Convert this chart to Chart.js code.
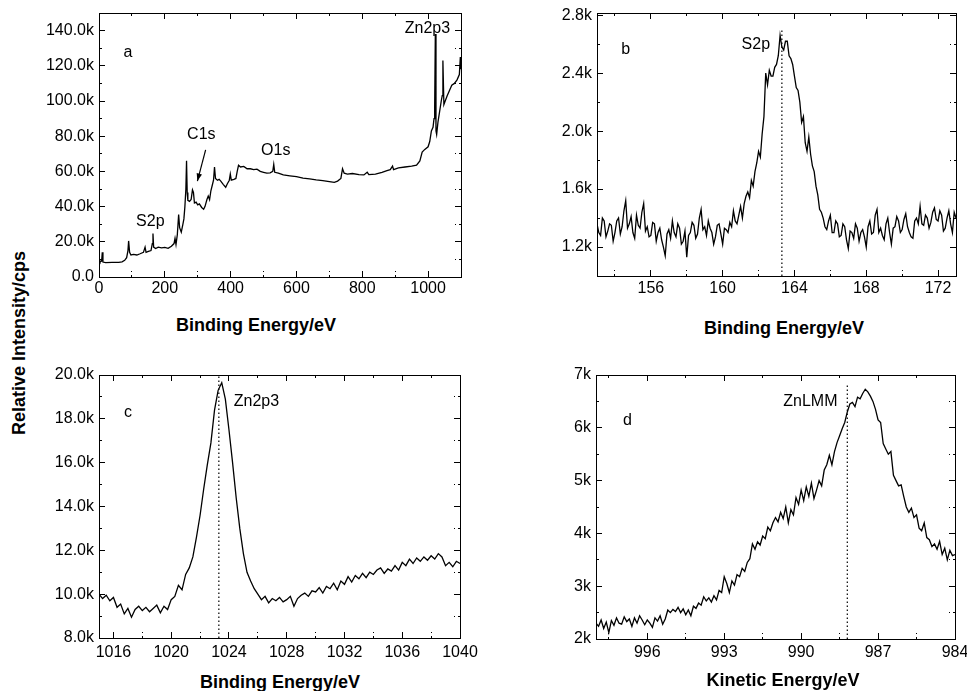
<!DOCTYPE html>
<html>
<head>
<meta charset="utf-8">
<script src="https://cdn.jsdelivr.net/npm/chart.js@4.4.1/dist/chart.umd.min.js"></script>
<style>
    body { margin: 0; background: #fff; }
    #page { position: relative; width: 967px; height: 691px; overflow: hidden; font-family: "Liberation Sans", Arial, sans-serif; color: #000; }
    #page canvas { position: absolute; }
    .axis-title { position: absolute; font-weight: bold; font-size: 18px; white-space: nowrap; transform: translate(-50%, -50%); }
    .axis-title.vertical { transform: translate(-50%, -50%) rotate(-90deg); }
</style>
</head>
<body>
<div id="page">
    <canvas id="surveyGraph" width="440" height="312" style="left:40px;top:-12px"></canvas>
    <canvas id="s2pGraph" width="460" height="312" style="left:520px;top:-12px"></canvas>
    <canvas id="zn2pGraph" width="450" height="330" style="left:40px;top:340px"></canvas>
    <canvas id="lmmGraph" width="460" height="330" style="left:520px;top:340px"></canvas>
    <div class="axis-title vertical" style="left:19px;top:343px">Relative Intensity/cps</div>
    <div class="axis-title" style="left:256px;top:325px">Binding Energy/eV</div>
    <div class="axis-title" style="left:784px;top:328px">Binding Energy/eV</div>
    <div class="axis-title" style="left:280px;top:682px">Binding Energy/eV</div>
    <div class="axis-title" style="left:783px;top:680px">Kinetic Energy/eV</div>
</div>
<script>
// (a) survey scan, counts in kcps
var surveyEnergy = [
    0, 3, 8, 10, 12, 20, 40, 60, 70, 78,
    84, 88, 90, 93, 97, 105, 115, 125, 135, 140,
    143, 150, 158, 162, 164, 166, 172, 180, 190, 200,
    210, 220, 228, 231, 234, 238, 242, 245, 250, 255,
    258, 261, 264, 266, 268, 270, 275, 280, 284, 287,
    290, 295, 300, 305, 312, 318, 322, 328, 332, 336,
    340, 344, 348, 351, 354, 360, 365, 370, 378, 385,
    390, 396, 399, 402, 410, 416, 420, 424, 430, 440,
    450, 460, 470, 480, 490, 500, 510, 520, 528, 531,
    534, 545, 560, 580, 600, 620, 640, 660, 680, 700,
    715, 725, 735, 740, 745, 755, 770, 790, 805, 815,
    820, 840, 860, 875, 885, 892, 895, 910, 930, 950,
    965, 975, 982, 990, 1000, 1005, 1010, 1015, 1018, 1020,
    1022, 1024, 1026, 1030, 1035, 1040, 1043, 1045, 1048, 1052,
    1058, 1065, 1072, 1080, 1088, 1095, 1098, 1100
];
var surveyCounts = [
    9.5, 8.5, 9, 14, 8.5, 8.2, 8.3, 8.3, 8.6, 9.5,
    11, 15, 20.5, 14, 12.5, 12.8, 12.5, 13.2, 14, 17,
    14, 14.5, 15, 19, 24.7, 17, 16.2, 17, 16.5, 16.8,
    16.3, 17.5, 19, 22, 18.5, 24, 35.5, 28, 25.5, 30,
    33, 40, 50, 66, 48, 43.5, 43, 44, 49.5, 48,
    42, 42.5, 41, 41.5, 39.5, 38.5, 40, 44, 46, 44,
    49, 52, 55, 62.5, 56, 55, 55.5, 54.5, 52.5, 51,
    53, 55, 58.5, 55, 55.5, 56, 60, 63.5, 62.5, 62.8,
    61.5, 61.5, 61, 61.3, 60, 59.5, 59, 59.2, 60, 64,
    59.5, 59, 58, 57.5, 57, 56.2, 55.8, 55.2, 54.8, 54.2,
    53.8, 54.5, 56, 61.5, 59, 58.5, 58.8, 58.2, 58, 59.5,
    58.2, 58.5, 59.5, 60.5, 61, 63, 61, 62, 62.5, 63,
    63.5, 66, 71, 72.5, 74, 77, 83, 85, 90, 96,
    138, 83, 81, 88, 94, 100, 103, 123, 98, 100,
    103, 106, 109, 110, 112, 115, 125, 118
];
var surveyXTicks = [0, 100, 200, 300, 400, 500, 600, 700, 800, 900, 1000, 1100];
var surveyXMajor = [0, 200, 400, 600, 800, 1000];
var surveyYTicks = [0, 10, 20, 30, 40, 50, 60, 70, 80, 90, 100, 110, 120, 130, 140];
var surveyYMajor = [0, 20, 40, 60, 80, 100, 120, 140];

// (b) S2p region
var s2pEnergy = [
    153.0, 153.1, 153.2, 153.3, 153.4, 153.5, 153.6, 153.7, 153.8, 153.9,
    154.0, 154.1, 154.2, 154.3, 154.4, 154.5, 154.6, 154.7, 154.8, 154.9,
    155.0, 155.1, 155.2, 155.3, 155.4, 155.5, 155.6, 155.7, 155.8, 155.9,
    156.0, 156.1, 156.2, 156.3, 156.4, 156.5, 156.6, 156.7, 156.8, 156.9,
    157.0, 157.1, 157.2, 157.3, 157.4, 157.5, 157.6, 157.7, 157.8, 157.9,
    158.0, 158.1, 158.2, 158.3, 158.4, 158.5, 158.6, 158.7, 158.8, 158.9,
    159.0, 159.1, 159.2, 159.3, 159.4, 159.5, 159.6, 159.7, 159.8, 159.9,
    160.0, 160.1, 160.2, 160.3, 160.4, 160.5, 160.6, 160.7, 160.8, 160.9,
    161.0, 161.1, 161.2, 161.3, 161.4, 161.5, 161.6, 161.7, 161.8, 161.9,
    162.0, 162.1, 162.2, 162.3, 162.4, 162.5, 162.6, 162.7, 162.8, 162.9,
    163.0, 163.1, 163.2, 163.3, 163.4, 163.5, 163.6, 163.7, 163.8, 163.9,
    164.0, 164.1, 164.2, 164.3, 164.4, 164.5, 164.6, 164.7, 164.8, 164.9,
    165.0, 165.1, 165.2, 165.3, 165.4, 165.5, 165.6, 165.7, 165.8, 165.9,
    166.0, 166.1, 166.2, 166.3, 166.4, 166.5, 166.6, 166.7, 166.8, 166.9,
    167.0, 167.1, 167.2, 167.3, 167.4, 167.5, 167.6, 167.7, 167.8, 167.9,
    168.0, 168.1, 168.2, 168.3, 168.4, 168.5, 168.6, 168.7, 168.8, 168.9,
    169.0, 169.1, 169.2, 169.3, 169.4, 169.5, 169.6, 169.7, 169.8, 169.9,
    170.0, 170.1, 170.2, 170.3, 170.4, 170.5, 170.6, 170.7, 170.8, 170.9,
    171.0, 171.1, 171.2, 171.3, 171.4, 171.5, 171.6, 171.7, 171.8, 171.9,
    172.0, 172.1, 172.2, 172.3, 172.4, 172.5, 172.6, 172.7, 172.8, 172.9,
    173.0
];
var s2pCounts = [
    1.36, 1.30, 1.28, 1.40, 1.38, 1.27, 1.31, 1.36, 1.35, 1.24,
    1.30, 1.38, 1.40, 1.29, 1.34, 1.45, 1.52, 1.33, 1.36, 1.41,
    1.30, 1.26, 1.42, 1.35, 1.33, 1.44, 1.50, 1.31, 1.34, 1.27,
    1.28, 1.37, 1.36, 1.24, 1.30, 1.33, 1.25, 1.20, 1.14, 1.29,
    1.32, 1.26, 1.38, 1.30, 1.27, 1.36, 1.33, 1.22, 1.24, 1.31,
    1.13, 1.28, 1.30, 1.37, 1.35, 1.26, 1.29, 1.40, 1.46, 1.32,
    1.34, 1.28, 1.38, 1.33, 1.30, 1.22, 1.27, 1.35, 1.36, 1.29,
    1.22, 1.33, 1.32, 1.30, 1.37, 1.34, 1.45, 1.38, 1.36, 1.42,
    1.48, 1.40, 1.50, 1.55, 1.58, 1.54, 1.66, 1.62, 1.72, 1.78,
    1.86, 1.82, 1.98, 2.10, 2.40, 2.32, 2.42, 2.38, 2.38, 2.44,
    2.46, 2.52, 2.66, 2.58, 2.56, 2.62, 2.62, 2.52, 2.50, 2.46,
    2.38, 2.30, 2.28, 2.20, 2.06, 2.10, 1.92, 1.86, 1.96, 1.84,
    1.76, 1.72, 1.62, 1.56, 1.46, 1.44, 1.40, 1.34, 1.32, 1.38,
    1.42, 1.30, 1.30, 1.38, 1.36, 1.27, 1.28, 1.36, 1.34, 1.25,
    1.19, 1.31, 1.30, 1.26, 1.36, 1.33, 1.24, 1.30, 1.32, 1.27,
    1.20, 1.34, 1.38, 1.29, 1.30, 1.42, 1.46, 1.30, 1.33, 1.28,
    1.25, 1.36, 1.40, 1.30, 1.22, 1.33, 1.34, 1.41, 1.38, 1.30,
    1.32, 1.39, 1.43, 1.34, 1.30, 1.27, 1.26, 1.38, 1.40, 1.36,
    1.48, 1.36, 1.35, 1.42, 1.40, 1.33, 1.37, 1.44, 1.47, 1.39,
    1.38, 1.45, 1.42, 1.31, 1.33, 1.40, 1.45, 1.36, 1.30, 1.44,
    1.40
];
var s2pXTicks = [154, 156, 158, 160, 162, 164, 166, 168, 170, 172];
var s2pXMajor = [156, 160, 164, 168, 172];
var s2pYTicks = [1.2, 1.4, 1.6, 1.8, 2.0, 2.2, 2.4, 2.6, 2.8];
var s2pYMajor = [1.2, 1.6, 2.0, 2.4, 2.8];
var s2pMarker = [163.3, 1.0, 2.70];

// (c) Zn2p3 region
var zn2pEnergy = [
    1015, 1015.25, 1015.5, 1015.75, 1016, 1016.25, 1016.5, 1016.75,
    1017, 1017.25, 1017.5, 1017.75, 1018, 1018.25, 1018.5, 1018.75,
    1019, 1019.25, 1019.5, 1019.75, 1020, 1020.25, 1020.5, 1020.75,
    1021, 1021.25, 1021.5, 1021.75, 1022, 1022.25, 1022.5, 1022.75,
    1023, 1023.25, 1023.5, 1023.75, 1024, 1024.25, 1024.5, 1024.75,
    1025, 1025.25, 1025.5, 1025.75, 1026, 1026.25, 1026.5, 1026.75,
    1027, 1027.25, 1027.5, 1027.75, 1028, 1028.25, 1028.5, 1028.75,
    1029, 1029.25, 1029.5, 1029.75, 1030, 1030.25, 1030.5, 1030.75,
    1031, 1031.25, 1031.5, 1031.75, 1032, 1032.25, 1032.5, 1032.75,
    1033, 1033.25, 1033.5, 1033.75, 1034, 1034.25, 1034.5, 1034.75,
    1035, 1035.25, 1035.5, 1035.75, 1036, 1036.25, 1036.5, 1036.75,
    1037, 1037.25, 1037.5, 1037.75, 1038, 1038.25, 1038.5, 1038.75,
    1039, 1039.25, 1039.5, 1039.75, 1040
];
var zn2pCounts = [
    10.0, 9.8, 9.95, 9.7, 9.85, 9.4, 9.55, 9.1,
    9.35, 8.95, 9.3, 9.45, 9.25, 9.4, 9.2, 9.35,
    9.5, 9.15, 9.45, 9.3, 9.75, 9.9, 10.4, 10.2,
    10.9, 11.2, 11.7, 12.6, 13.6, 14.8, 15.9, 16.9,
    18.4, 19.3, 19.65, 18.9, 17.5, 16.0, 14.4, 13.0,
    11.85, 11.0, 10.6, 10.25, 10.0, 9.75, 9.9, 9.6,
    9.8, 9.7, 9.85, 9.65, 9.75, 9.9, 9.45, 9.8,
    9.95, 10.05, 9.9, 10.15, 10.1, 10.3, 10.05, 10.35,
    10.25, 10.5, 10.2, 10.6, 10.45, 10.8, 10.55, 10.85,
    10.7, 10.95, 10.75, 11.0, 10.9, 11.1, 11.2, 10.95,
    11.15, 11.05, 11.3, 11.1, 11.45, 11.3, 11.6, 11.4,
    11.65, 11.5, 11.7, 11.55, 11.75, 11.6, 11.85, 11.7,
    11.3, 11.45, 11.25, 11.5, 11.4
];
var zn2pXTicks = [1016, 1018, 1020, 1022, 1024, 1026, 1028, 1030, 1032, 1034, 1036, 1038, 1040];
var zn2pXMajor = [1016, 1020, 1024, 1028, 1032, 1036, 1040];
var zn2pYTicks = [8, 9, 10, 11, 12, 13, 14, 15, 16, 17, 18, 19, 20];
var zn2pYMajor = [8, 10, 12, 14, 16, 18, 20];
var zn2pMarker = [1023.3, 8, 20];

// (d) ZnLMM Auger region, kinetic energy runs backwards
var lmmEnergy = [
    998.0, 997.9, 997.8, 997.7, 997.6, 997.5, 997.4, 997.3, 997.2, 997.1,
    997.0, 996.9, 996.8, 996.7, 996.6, 996.5, 996.4, 996.3, 996.2, 996.1,
    996.0, 995.9, 995.8, 995.7, 995.6, 995.5, 995.4, 995.3, 995.2, 995.1,
    995.0, 994.9, 994.8, 994.7, 994.6, 994.5, 994.4, 994.3, 994.2, 994.1,
    994.0, 993.9, 993.8, 993.7, 993.6, 993.5, 993.4, 993.3, 993.2, 993.1,
    993.0, 992.9, 992.8, 992.7, 992.6, 992.5, 992.4, 992.3, 992.2, 992.1,
    992.0, 991.9, 991.8, 991.7, 991.6, 991.5, 991.4, 991.3, 991.2, 991.1,
    991.0, 990.9, 990.8, 990.7, 990.6, 990.5, 990.4, 990.3, 990.2, 990.1,
    990.0, 989.9, 989.8, 989.7, 989.6, 989.5, 989.4, 989.3, 989.2, 989.1,
    989.0, 988.9, 988.8, 988.7, 988.6, 988.5, 988.4, 988.3, 988.2, 988.1,
    988.0, 987.9, 987.8, 987.7, 987.6, 987.5, 987.4, 987.3, 987.2, 987.1,
    987.0, 986.9, 986.8, 986.7, 986.6, 986.5, 986.4, 986.3, 986.2, 986.1,
    986.0, 985.9, 985.8, 985.7, 985.6, 985.5, 985.4, 985.3, 985.2, 985.1,
    985.0, 984.9, 984.8, 984.7, 984.6, 984.5, 984.4, 984.3, 984.2, 984.1,
    984.0
];
var lmmCounts = [
    2.30, 2.24, 2.36, 2.20, 2.32, 2.12, 2.35, 2.26, 2.40, 2.30,
    2.28, 2.42, 2.33, 2.38, 2.24, 2.40, 2.30, 2.44, 2.36, 2.27,
    2.36, 2.30, 2.22, 2.40, 2.34, 2.44, 2.28, 2.38, 2.55, 2.50,
    2.56, 2.52, 2.60, 2.50, 2.57, 2.46, 2.55, 2.44, 2.62, 2.58,
    2.68, 2.64, 2.80, 2.72, 2.78, 2.70, 2.82, 2.74, 2.92, 2.88,
    3.18, 3.05, 2.88, 3.10, 3.02, 3.22, 3.18, 3.34, 3.28, 3.45,
    3.52, 3.80, 3.70, 3.84, 3.78, 3.95, 3.90, 4.12, 4.05, 4.20,
    4.30, 4.22, 4.40, 4.28, 4.50, 4.20, 4.45, 4.35, 4.68, 4.55,
    4.82, 4.62, 4.88, 4.70, 4.95, 4.66, 4.82, 5.00, 4.90, 5.20,
    5.30, 5.48, 5.30, 5.55, 5.72, 5.85, 5.98, 6.10, 6.30, 6.45,
    6.48, 6.40, 6.58, 6.55, 6.65, 6.73, 6.68, 6.60, 6.50, 6.35,
    6.15, 6.10, 5.70, 5.60, 5.50, 5.55, 5.10, 5.00, 4.90, 4.92,
    4.70, 4.50, 4.40, 4.48, 4.30, 4.35, 4.10, 4.05, 4.20, 3.92,
    3.88, 3.75, 3.80, 3.70, 3.85, 3.60, 3.72, 3.50, 3.68, 3.58,
    3.60
];
var lmmXTicks = [997.5, 996, 994.5, 993, 991.5, 990, 988.5, 987, 985.5, 984];
var lmmXMajor = [996, 993, 990, 987, 984];
var lmmYTicks = [2, 2.5, 3, 3.5, 4, 4.5, 5, 5.5, 6, 6.5, 7];
var lmmYMajor = [2, 3, 4, 5, 6, 7];
var lmmMarker = [988.2, 2, 6.83];

var tickFont = { family: "'Liberation Sans', Arial, sans-serif", size: 16 };
var noteFont = "16px 'Liberation Sans', Arial, sans-serif";

function build_points(xs, ys) {
    var points = [];
    for (var i = 0; i < xs.length; i++) {
        points.push({ x: xs[i], y: ys[i] });
    }
    return points;
}

function fmt_k1(value) {
    return value === 0 ? "0.0" : value.toFixed(1) + "k";
}

function fmt_k0(value) {
    return value + "k";
}

function fmt_plain(value) {
    return String(value);
}

// minor ticks are drawn as half of the major tick through the dash pattern
function make_axis(position, ticks, majors, fmt, size, pad, range) {
    var mirror = position === "top" || position === "right";
    var startsInside = position === "top" || position === "left";
    return {
        type: "linear",
        position: position,
        min: range[0],
        max: range[1],
        reverse: range[2] === true,
        afterBuildTicks: function (scale) {
            scale.ticks = ticks.map(function (v) { return { value: v }; });
        },
        afterFit: function (scale) {
            if (position === "top" || position === "bottom") {
                scale.height = size;
            } else {
                scale.width = size;
            }
        },
        border: { display: true, color: "#000", width: 1 },
        grid: {
            drawOnChartArea: false,
            drawTicks: true,
            tickLength: -6,
            tickColor: "#000",
            tickWidth: 1,
            tickBorderDash: function (context) {
                if (!context.tick || majors.indexOf(context.tick.value) >= 0) {
                    return [];
                }
                return [3, 3];
            },
            tickBorderDashOffset: startsInside ? 3 : 0,
        },
        ticks: {
            display: !mirror,
            autoSkip: false,
            maxRotation: 0,
            padding: pad,
            color: "#000",
            font: tickFont,
            callback: function (value) {
                return majors.indexOf(value) >= 0 ? fmt(value) : "";
            },
        },
    };
}

function make_notes_plugin(notes, arrows) {
    return {
        id: "panelNotes",
        afterDatasetsDraw: function (chart) {
            var ctx = chart.ctx;
            var xs = chart.scales.x;
            var ys = chart.scales.y;
            ctx.save();
            ctx.fillStyle = "#000";
            ctx.strokeStyle = "#000";
            ctx.font = noteFont;
            ctx.textAlign = "center";
            ctx.textBaseline = "middle";
            for (var note of notes) {
                ctx.fillText(note.text, xs.getPixelForValue(note.x), ys.getPixelForValue(note.y));
            }
            for (var arrow of arrows) {
                var x1 = xs.getPixelForValue(arrow.from[0]);
                var y1 = ys.getPixelForValue(arrow.from[1]);
                var x2 = xs.getPixelForValue(arrow.to[0]);
                var y2 = ys.getPixelForValue(arrow.to[1]);
                var angle = Math.atan2(y2 - y1, x2 - x1);
                ctx.lineWidth = 1.2;
                ctx.beginPath();
                ctx.moveTo(x1, y1);
                ctx.lineTo(x2, y2);
                ctx.stroke();
                ctx.beginPath();
                ctx.moveTo(x2, y2);
                ctx.lineTo(x2 - 8 * Math.cos(angle - 0.35), y2 - 8 * Math.sin(angle - 0.35));
                ctx.lineTo(x2 - 8 * Math.cos(angle + 0.35), y2 - 8 * Math.sin(angle + 0.35));
                ctx.closePath();
                ctx.fill();
            }
            ctx.restore();
        },
    };
}

function create_panel(canvasId, panel) {
    var datasets = [
        {
            data: build_points(panel.energy, panel.counts),
            borderColor: "#000",
            borderWidth: 1.3,
            pointRadius: 0,
            tension: 0,
        },
    ];
    if (panel.marker) {
        datasets.push({
            data: [{ x: panel.marker[0], y: panel.marker[1] }, { x: panel.marker[0], y: panel.marker[2] }],
            borderColor: "#000",
            borderWidth: 1.2,
            borderDash: [1.5, 2.5],
            pointRadius: 0,
        });
    }
    var box = panel.box;
    var area = panel.area;
    var xRange = [panel.xRange[0], panel.xRange[1], panel.reverse];
    return new Chart(canvasId, {
        type: "line",
        data: { datasets: datasets },
        options: {
            responsive: false,
            animation: false,
            events: [],
            layout: {
                autoPadding: false,
                padding: { left: 0, bottom: 0, top: area.top - box.top, right: box.left + box.width - area.right },
            },
            plugins: { legend: { display: false }, tooltip: { enabled: false } },
            scales: {
                x: make_axis("bottom", panel.xTicks, panel.xMajor, fmt_plain, box.top + box.height - area.bottom, panel.xPad, xRange),
                x2: make_axis("top", panel.xTicks, panel.xMajor, fmt_plain, 0, 0, xRange),
                y: make_axis("left", panel.yTicks, panel.yMajor, panel.yFmt, area.left - box.left, 11, panel.yRange),
                y2: make_axis("right", panel.yTicks, panel.yMajor, panel.yFmt, 0, 0, panel.yRange),
            },
        },
        plugins: [make_notes_plugin(panel.notes, panel.arrows || [])],
    });
}

var surveyGraph = create_panel("surveyGraph", {
    energy: surveyEnergy, counts: surveyCounts,
    xTicks: surveyXTicks, xMajor: surveyXMajor, yTicks: surveyYTicks, yMajor: surveyYMajor,
    xRange: [0, 1100], yRange: [0, 150], yFmt: fmt_k1, xPad: 8,
    box: { left: 40, top: -12, width: 440, height: 312 },
    area: { left: 99, top: 13, right: 461, bottom: 277 },
    notes: [
        { text: "a", x: 88, y: 127.4 },
        { text: "S2p", x: 156, y: 31.7 },
        { text: "C1s", x: 311, y: 80.7 },
        { text: "O1s", x: 537, y: 71.6 },
        { text: "Zn2p3", x: 998, y: 141 },
    ],
    arrows: [{ from: [324, 72.2], to: [299, 54.5] }],
});

var s2pGraph = create_panel("s2pGraph", {
    energy: s2pEnergy, counts: s2pCounts,
    xTicks: s2pXTicks, xMajor: s2pXMajor, yTicks: s2pYTicks, yMajor: s2pYMajor,
    xRange: [153, 173], yRange: [1.0, 2.815], yFmt: fmt_k1, xPad: 9, marker: s2pMarker,
    box: { left: 520, top: -12, width: 460, height: 312 },
    area: { left: 597, top: 13, right: 956, bottom: 276 },
    notes: [
        { text: "b", x: 154.6, y: 2.56 },
        { text: "S2p", x: 161.85, y: 2.594 },
    ],
});

var zn2pGraph = create_panel("zn2pGraph", {
    energy: zn2pEnergy, counts: zn2pCounts,
    xTicks: zn2pXTicks, xMajor: zn2pXMajor, yTicks: zn2pYTicks, yMajor: zn2pYMajor,
    xRange: [1015, 1040], yRange: [8, 20], yFmt: fmt_k1, xPad: 11, marker: zn2pMarker,
    box: { left: 40, top: 340, width: 450, height: 330 },
    area: { left: 99, top: 375, right: 460, bottom: 638 },
    notes: [
        { text: "c", x: 1017, y: 18.28 },
        { text: "Zn2p3", x: 1025.9, y: 18.78 },
    ],
});

var lmmGraph = create_panel("lmmGraph", {
    energy: lmmEnergy, counts: lmmCounts,
    xTicks: lmmXTicks, xMajor: lmmXMajor, yTicks: lmmYTicks, yMajor: lmmYMajor,
    xRange: [984, 998], reverse: true, yRange: [2, 7], yFmt: fmt_k0, xPad: 10, marker: lmmMarker,
    box: { left: 520, top: 340, width: 460, height: 330 },
    area: { left: 596, top: 375, right: 955, bottom: 639 },
    notes: [
        { text: "d", x: 996.77, y: 6.13 },
        { text: "ZnLMM", x: 989.64, y: 6.49 },
    ],
});
</script>
</body>
</html>
